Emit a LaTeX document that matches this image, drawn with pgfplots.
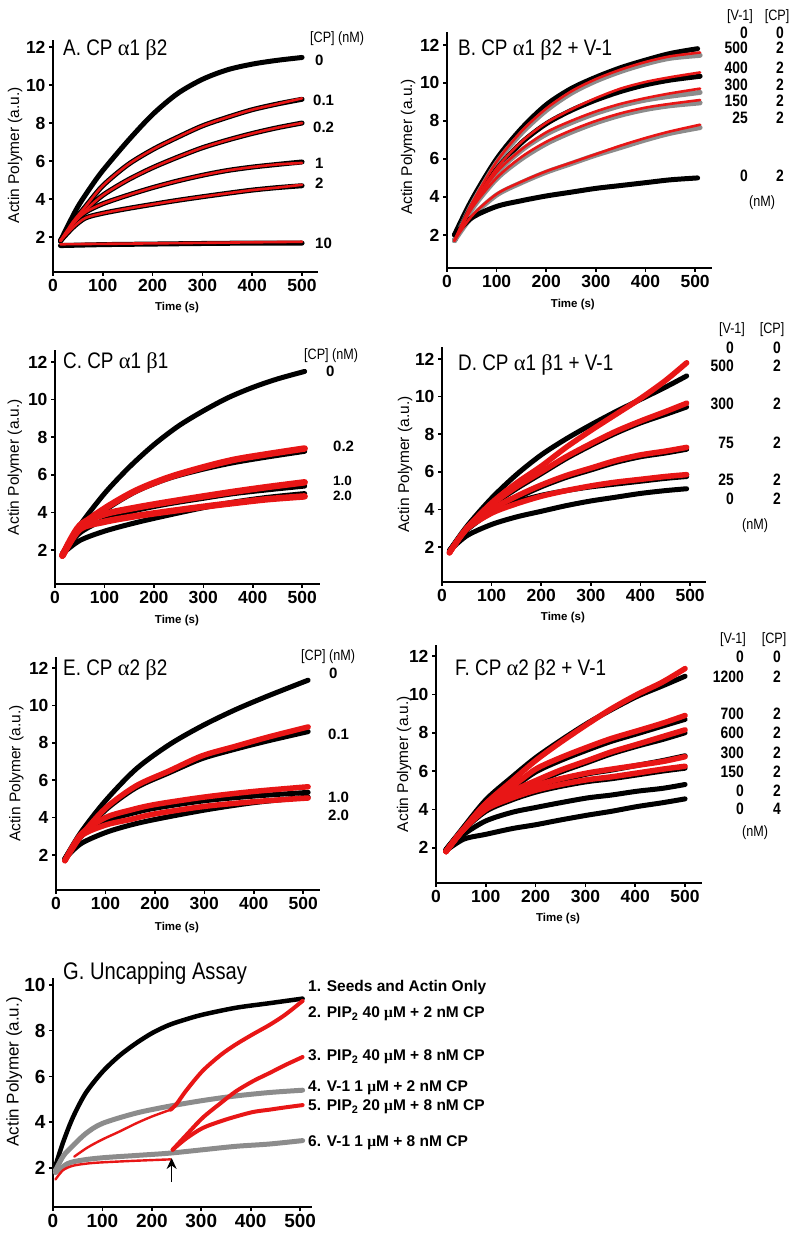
\documentclass[border=0pt]{standalone}
\usepackage{fontspec}
\setmainfont{Liberation Sans}
\newfontfamily\narrow[FakeStretch=0.84]{Liberation Sans}
\newfontfamily\grk{Liberation Serif}
\usepackage{pgfplots}
\pgfplotsset{compat=1.18}
\usetikzlibrary{arrows.meta}
\definecolor{fitred}{RGB}{232,22,22}
\definecolor{datgray}{RGB}{140,140,140}
\newcommand\tk{\bfseries\fontsize{17.5}{17.5}\selectfont}
\newcommand\ttl{\narrow\fontsize{22.5}{22.5}\selectfont}
\newcommand\hdr{\narrow\fontsize{15}{15}\selectfont}
\newcommand\cl{\bfseries\fontsize{15}{15}\selectfont}
\newcommand\tb{\narrow\bfseries\fontsize{16.5}{16.5}\selectfont}
\newcommand\glg{\bfseries\fontsize{15.5}{15.5}\selectfont}
\pgfplotsset{
 panel/.style={
  scale only axis, anchor=south west, xmin=0,
  axis lines=left, axis line style={-, line width=2.6pt},
  tick align=outside, major tick length=4pt,
  tick style={line width=1.6pt, black},
  xtick={0,100,200,300,400,500}, ytick={2,4,6,8,10,12},
  /pgf/number format/assume math mode=true,
  tick label style={font=\tk},
  xlabel style={font=\bfseries\fontsize{11.5}{11.5}\selectfont, anchor=center},
  ylabel style={font=\fontsize{15.5}{15.5}\selectfont, anchor=center},
 },
 dat/.style={black, line width=5pt, smooth, no marks, line cap=round},
 gdat/.style={datgray, line width=5pt, smooth, no marks, line cap=round},
 fit/.style={fitred, line width=2.6pt, smooth, no marks, line cap=round},
 tdat/.style={black, line width=5pt, smooth, no marks, line cap=round},
 tfit/.style={fitred, line width=5.5pt, smooth, no marks, line cap=round},
}
\begin{document}
\begin{tikzpicture}
\path[use as bounding box] (0,0) rectangle (800pt,1240pt);

% ---------------- A ----------------
\begin{axis}[panel, at={(53pt,968pt)}, width=265pt, height=232pt,
  ymin=0.16, ymax=12.37, xmax=532,
  xlabel={Time (s)}, xlabel style={at={(axis description cs:0.468,-0.155)}},
  ylabel={Actin Polymer (a.u.)}, ylabel style={at={(axis description cs:-0.143,0.504)}}]
\addplot[dat] coordinates {(15,1.8)(30,2.6)(50,3.6)(75,4.6)(100,5.5)(150,7.05)(200,8.45)(250,9.55)(300,10.3)(350,10.8)(400,11.1)(450,11.3)(500,11.45)};
\addplot[dat] coordinates {(15,1.8)(40,2.8)(65,3.6)(100,4.7)(150,5.8)(200,6.6)(250,7.25)(300,7.85)(350,8.3)(400,8.7)(450,9.0)(500,9.25)};
\addplot[dat] coordinates {(15,1.8)(40,2.7)(65,3.4)(100,4.2)(150,5.0)(200,5.65)(250,6.2)(300,6.7)(350,7.1)(400,7.45)(450,7.75)(500,8.0)};
\addplot[dat] coordinates {(15,1.8)(40,2.7)(65,3.3)(100,3.75)(150,4.2)(200,4.6)(250,4.95)(300,5.25)(350,5.5)(400,5.68)(450,5.82)(500,5.95)};
\addplot[dat] coordinates {(15,1.8)(40,2.5)(65,3.0)(100,3.25)(150,3.5)(200,3.72)(250,3.93)(300,4.12)(350,4.3)(400,4.47)(450,4.6)(500,4.7)};
\addplot[dat] coordinates {(15,1.55)(100,1.6)(200,1.63)(300,1.66)(400,1.68)(500,1.68)};
\addplot[fit] coordinates {(15,1.8)(40,2.8)(65,3.6)(100,4.7)(150,5.8)(200,6.6)(250,7.25)(300,7.85)(350,8.3)(400,8.7)(450,9.0)(500,9.3)};
\addplot[fit] coordinates {(15,1.8)(40,2.7)(65,3.4)(100,4.2)(150,5.0)(200,5.65)(250,6.2)(300,6.7)(350,7.1)(400,7.45)(450,7.75)(500,8.0)};
\addplot[fit] coordinates {(15,1.8)(40,2.7)(65,3.3)(100,3.75)(150,4.2)(200,4.6)(250,4.95)(300,5.25)(350,5.5)(400,5.68)(450,5.82)(500,5.9)};
\addplot[fit] coordinates {(15,1.8)(40,2.5)(65,3.0)(100,3.25)(150,3.5)(200,3.72)(250,3.93)(300,4.12)(350,4.3)(400,4.47)(450,4.6)(500,4.75)};
\addplot[fit] coordinates {(15,1.62)(250,1.68)(500,1.75)};
\end{axis}

% ---------------- B ----------------
\begin{axis}[panel, at={(447pt,972pt)}, width=265pt, height=236pt,
  ymin=0.26, ymax=12.68, xmax=534,
  xlabel={Time (s)}, xlabel style={at={(axis description cs:0.475,-0.153)}},
  ylabel={Actin Polymer (a.u.)}, ylabel style={at={(axis description cs:-0.147,0.513)}}]
\addplot[dat] coordinates {(15,2.0)(50,3.85)(100,6.0)(150,7.6)(200,8.85)(250,9.7)(300,10.3)(350,10.8)(400,11.2)(450,11.55)(505,11.8)};
\addplot[gdat] coordinates {(15,1.7)(50,3.6)(100,5.8)(150,7.35)(200,8.55)(250,9.45)(300,10.1)(350,10.6)(400,11.0)(450,11.3)(510,11.45)};
\addplot[dat] coordinates {(15,1.7)(50,3.5)(100,5.45)(150,6.85)(200,7.85)(250,8.55)(300,9.1)(350,9.55)(400,9.9)(450,10.15)(510,10.35)};
\addplot[gdat] coordinates {(15,1.7)(50,3.4)(100,5.25)(150,6.45)(200,7.3)(250,7.9)(300,8.4)(350,8.8)(400,9.1)(450,9.3)(510,9.5)};
\addplot[gdat] coordinates {(15,1.7)(50,3.35)(100,4.95)(150,6.0)(200,6.8)(250,7.4)(300,7.9)(350,8.3)(400,8.6)(450,8.8)(510,8.95)};
\addplot[gdat] coordinates {(15,1.7)(50,2.95)(100,4.1)(150,4.75)(200,5.3)(250,5.75)(300,6.2)(350,6.6)(400,7.0)(450,7.35)(510,7.65)};
\addplot[dat] coordinates {(15,2.0)(50,2.9)(100,3.5)(150,3.8)(200,4.05)(250,4.25)(300,4.45)(350,4.6)(400,4.75)(450,4.9)(505,5.0)};
\addplot[fit] coordinates {(15,1.7)(50,3.65)(100,5.85)(150,7.45)(200,8.65)(250,9.55)(300,10.2)(350,10.7)(400,11.1)(450,11.4)(510,11.6)};
\addplot[fit] coordinates {(15,1.7)(50,3.5)(100,5.5)(150,6.9)(200,7.9)(250,8.6)(300,9.2)(350,9.7)(400,10.05)(450,10.3)(510,10.55)};
\addplot[fit] coordinates {(15,1.7)(50,3.45)(100,5.3)(150,6.5)(200,7.4)(250,8.0)(300,8.5)(350,8.9)(400,9.2)(450,9.45)(510,9.7)};
\addplot[fit] coordinates {(15,1.7)(50,3.4)(100,5.0)(150,6.1)(200,6.9)(250,7.5)(300,8.0)(350,8.4)(400,8.7)(450,8.9)(510,9.1)};
\addplot[fit] coordinates {(15,1.7)(50,3.0)(100,4.15)(150,4.8)(200,5.35)(250,5.8)(300,6.25)(350,6.7)(400,7.1)(450,7.45)(510,7.8)};
\end{axis}

% ---------------- C ----------------
\begin{axis}[panel, at={(55pt,656pt)}, width=265pt, height=234pt,
  ymin=0.19, ymax=12.64, xmax=536,
  xlabel={Time (s)}, xlabel style={at={(axis description cs:0.46,-0.158)}},
  ylabel={Actin Polymer (a.u.)}, ylabel style={at={(axis description cs:-0.151,0.5)}}]
\addplot[tdat] coordinates {(15,1.8)(50,3.3)(100,5.0)(150,6.4)(200,7.6)(250,8.6)(300,9.4)(350,10.1)(400,10.65)(450,11.1)(505,11.5)};
\addplot[tdat] coordinates {(15,1.8)(50,3.0)(100,4.1)(163,5.1)(229,5.8)(300,6.3)(362,6.65)(430,6.95)(505,7.25)};
\addplot[tdat] coordinates {(15,1.8)(50,2.9)(100,3.6)(163,4.1)(229,4.45)(300,4.75)(362,5.0)(430,5.2)(505,5.4)};
\addplot[tdat] coordinates {(15,1.8)(50,2.5)(100,3.0)(163,3.45)(229,3.85)(300,4.25)(362,4.55)(430,4.8)(505,5.0)};
\addplot[tfit, line width=6.5pt] coordinates {(15,1.7)(50,3.2)(100,4.2)(163,5.15)(229,5.85)(300,6.4)(362,6.8)(430,7.1)(505,7.4)};
\addplot[tfit, line width=6.5pt] coordinates {(15,1.7)(50,3.3)(100,3.9)(163,4.25)(229,4.55)(300,4.85)(362,5.1)(430,5.35)(505,5.6)};
\addplot[tfit, line width=6.5pt] coordinates {(15,1.7)(50,3.1)(100,3.5)(163,3.8)(229,4.05)(300,4.3)(362,4.5)(430,4.7)(505,4.85)};
\end{axis}

% ---------------- D ----------------
\begin{axis}[panel, at={(442pt,658pt)}, width=264pt, height=235pt,
  ymin=0.14, ymax=12.64, xmax=532,
  xlabel={Time (s)}, xlabel style={at={(axis description cs:0.458,-0.153)}},
  ylabel={Actin Polymer (a.u.)}, ylabel style={at={(axis description cs:-0.14,0.5)}}]
\addplot[tdat] coordinates {(15,1.8)(50,3.1)(100,4.6)(150,5.85)(200,6.9)(250,7.75)(300,8.5)(350,9.2)(400,9.85)(450,10.5)(493,11.1)};
\addplot[tdat] coordinates {(15,1.8)(50,3.0)(100,4.2)(150,5.1)(200,5.9)(250,6.7)(300,7.4)(350,8.05)(400,8.6)(450,9.05)(493,9.45)};
\addplot[tdat] coordinates {(15,1.8)(50,2.95)(100,3.9)(150,4.6)(200,5.2)(250,5.7)(300,6.1)(350,6.5)(400,6.8)(450,7.0)(493,7.2)};
\addplot[tdat] coordinates {(15,1.8)(50,2.9)(100,3.85)(150,4.4)(200,4.75)(250,5.0)(300,5.2)(350,5.35)(400,5.5)(450,5.65)(493,5.75)};
\addplot[tdat] coordinates {(15,1.8)(50,2.6)(100,3.2)(150,3.6)(200,3.9)(250,4.2)(300,4.45)(350,4.65)(400,4.85)(450,5.0)(493,5.1)};
\addplot[tfit] coordinates {(15,1.7)(50,3.0)(100,4.35)(150,5.4)(200,6.3)(250,7.3)(300,8.2)(350,9.05)(400,9.9)(450,10.85)(493,11.8)};
\addplot[tfit] coordinates {(15,1.7)(50,3.0)(100,4.25)(150,5.2)(200,6.0)(250,6.8)(300,7.5)(350,8.15)(400,8.7)(450,9.2)(493,9.65)};
\addplot[tfit] coordinates {(15,1.7)(50,3.0)(100,4.0)(150,4.7)(200,5.3)(250,5.8)(300,6.2)(350,6.6)(400,6.9)(450,7.1)(493,7.3)};
\addplot[tfit] coordinates {(15,1.7)(50,2.95)(100,3.8)(150,4.3)(200,4.7)(250,5.0)(300,5.25)(350,5.45)(400,5.6)(450,5.75)(493,5.85)};
\end{axis}

% ---------------- E ----------------
\begin{axis}[panel, at={(56pt,350pt)}, width=264pt, height=233pt,
  ymin=0.13, ymax=12.59, xmax=534,
  xlabel={Time (s)}, xlabel style={at={(axis description cs:0.458,-0.159)}},
  ylabel={Actin Polymer (a.u.)}, ylabel style={at={(axis description cs:-0.15,0.5)}}]
\addplot[tdat] coordinates {(18,1.8)(50,3.2)(100,4.9)(162,6.6)(229,7.9)(295,8.9)(361,9.75)(428,10.5)(510,11.35)};
\addplot[tdat] coordinates {(18,1.8)(50,2.95)(100,4.4)(162,5.6)(229,6.4)(295,7.15)(361,7.65)(428,8.1)(510,8.6)};
\addplot[tdat] coordinates {(18,1.8)(50,3.0)(100,3.8)(150,4.2)(200,4.5)(300,4.9)(400,5.15)(510,5.35)};
\addplot[tdat] coordinates {(18,1.8)(50,2.6)(100,3.2)(150,3.6)(200,3.9)(300,4.4)(400,4.8)(510,5.1)};
\addplot[tfit] coordinates {(18,1.7)(50,3.0)(100,4.5)(162,5.7)(229,6.5)(295,7.3)(361,7.8)(428,8.3)(510,8.85)};
\addplot[tfit] coordinates {(18,1.7)(50,3.1)(100,4.0)(150,4.4)(200,4.7)(300,5.1)(400,5.4)(510,5.65)};
\addplot[tfit] coordinates {(18,1.7)(50,3.0)(100,3.6)(150,3.9)(200,4.2)(300,4.6)(400,4.85)(510,5.05)};
\end{axis}

% ---------------- F ----------------
\begin{axis}[panel, at={(436pt,357pt)}, width=266pt, height=238pt,
  ymin=0.16, ymax=12.58, xmax=534,
  xlabel={Time (s)}, xlabel style={at={(axis description cs:0.459,-0.151)}},
  ylabel={Actin Polymer (a.u.)}, ylabel style={at={(axis description cs:-0.12,0.5)}}]
\addplot[tdat] coordinates {(20,1.9)(50,2.9)(100,4.5)(153,5.7)(200,6.7)(250,7.6)(304,8.5)(352,9.2)(404,9.9)(455,10.45)(500,10.95)};
\addplot[tdat] coordinates {(20,1.9)(50,2.8)(100,4.2)(153,5.1)(200,5.95)(250,6.55)(304,7.1)(352,7.55)(404,7.95)(455,8.35)(500,8.7)};
\addplot[tdat] coordinates {(20,1.9)(50,2.8)(100,4.1)(153,4.85)(200,5.4)(250,5.95)(304,6.45)(352,6.9)(404,7.3)(455,7.65)(500,8.0)};
\addplot[tdat] coordinates {(20,1.9)(50,2.8)(100,4.0)(153,4.65)(200,5.15)(250,5.5)(304,5.85)(352,6.05)(404,6.3)(455,6.55)(500,6.8)};
\addplot[tdat] coordinates {(20,1.9)(50,2.8)(100,3.9)(153,4.5)(200,4.9)(250,5.2)(304,5.45)(352,5.6)(404,5.8)(455,6.0)(500,6.15)};
\addplot[tdat] coordinates {(20,1.85)(56,2.7)(100,3.4)(153,3.85)(200,4.1)(250,4.35)(304,4.6)(352,4.75)(404,4.95)(455,5.1)(500,5.3)};
\addplot[tdat] coordinates {(20,1.85)(56,2.45)(100,2.7)(153,3.0)(200,3.2)(250,3.45)(304,3.7)(352,3.9)(404,4.15)(455,4.35)(500,4.55)};
\addplot[tfit] coordinates {(20,1.8)(50,2.8)(100,4.3)(153,5.5)(200,6.55)(250,7.5)(304,8.45)(352,9.25)(404,10.0)(455,10.65)(500,11.35)};
\addplot[tfit] coordinates {(20,1.8)(50,2.8)(100,4.3)(153,5.2)(200,6.1)(250,6.7)(304,7.25)(352,7.7)(404,8.1)(455,8.5)(500,8.9)};
\addplot[tfit] coordinates {(20,1.8)(50,2.8)(100,4.2)(153,4.95)(200,5.5)(250,6.05)(304,6.55)(352,7.0)(404,7.4)(455,7.8)(500,8.15)};
\addplot[tfit] coordinates {(20,1.8)(50,2.8)(100,4.1)(153,4.75)(200,5.25)(250,5.6)(304,5.9)(352,6.1)(404,6.3)(455,6.5)(500,6.75)};
\addplot[tfit] coordinates {(20,1.8)(50,2.8)(100,4.0)(153,4.6)(200,5.0)(250,5.3)(304,5.55)(352,5.7)(404,5.9)(455,6.1)(500,6.25)};
\end{axis}

% ---------------- G ----------------
\begin{axis}[panel, at={(53pt,33pt)}, width=259pt, height=229pt,
  ymin=0.3, ymax=10.3, xmax=524, ytick={2,4,6,8,10},
  tick label style={font=\bfseries\fontsize{19}{19}\selectfont},
  ylabel={Actin Polymer (a.u.)}, ylabel style={font=\fontsize{17}{17}\selectfont, at={(axis description cs:-0.15,0.59)}}]
\addplot[black, line width=4.5pt, smooth, no marks, line cap=round] coordinates {(5,2.1)(20,3.1)(40,4.2)(66,5.27)(100,6.2)(134,6.9)(168,7.45)(201,7.9)(235,8.25)(270,8.5)(303,8.7)(370,9.0)(438,9.2)(505,9.4)};
\addplot[fitred, line width=2.4pt, smooth, no marks, line cap=round] coordinates {(43,2.5)(70,2.9)(100,3.25)(135,3.6)(168,3.95)(200,4.25)(238,4.55)};
\addplot[datgray, line width=5pt, smooth, no marks, line cap=round] coordinates {(5,1.9)(20,2.5)(32,2.8)(66,3.5)(100,3.95)(168,4.4)(235,4.7)(303,4.95)(370,5.15)(438,5.3)(505,5.4)};
\addplot[datgray, line width=5pt, smooth, no marks, line cap=round] coordinates {(5,1.8)(30,2.2)(60,2.35)(100,2.45)(168,2.55)(235,2.65)(303,2.8)(370,2.95)(438,3.05)(505,3.2)};
\addplot[fitred, line width=2.4pt, smooth, no marks, line cap=round] coordinates {(5,1.5)(20,1.9)(40,2.1)(70,2.2)(100,2.25)(168,2.32)(238,2.38)};
\addplot[fitred, line width=4pt, smooth, no marks, line cap=round] coordinates {(238,4.55)(250,4.8)(270,5.4)(303,6.25)(340,6.95)(370,7.4)(405,7.85)(438,8.25)(470,8.7)(505,9.3)};
\addplot[fitred, line width=4pt, smooth, no marks, line cap=round] coordinates {(242,2.8)(270,3.45)(303,4.2)(340,4.85)(370,5.35)(405,5.8)(438,6.15)(470,6.5)(505,6.85)};
\addplot[fitred, line width=4pt, smooth, no marks, line cap=round] coordinates {(242,2.8)(270,3.3)(303,3.75)(340,4.05)(370,4.25)(405,4.45)(438,4.55)(470,4.65)(505,4.75)};
\draw[-{Stealth[length=11pt,width=10pt]}, line width=1.6pt] (axis cs:240,1.39) -- (axis cs:240,2.44);
\end{axis}

% ---------------- text ----------------
\begin{scope}[x=1pt,y=-1pt,yshift=1240pt]
\node[anchor=west,font=\ttl,inner sep=0] at (63,50) {A. CP {\grk α}1 {\grk β}2};
\node[anchor=west,font=\ttl,inner sep=0] at (458,50) {B. CP {\grk α}1 {\grk β}2 + V-1};
\node[anchor=west,font=\ttl,inner sep=0] at (63,363) {C. CP {\grk α}1 {\grk β}1};
\node[anchor=west,font=\ttl,inner sep=0] at (458,365) {D. CP {\grk α}1 {\grk β}1 + V-1};
\node[anchor=west,font=\ttl,inner sep=0] at (63,670) {E. CP {\grk α}2 {\grk β}2};
\node[anchor=west,font=\ttl,inner sep=0] at (455,670) {F. CP {\grk α}2 {\grk β}2 + V-1};
\node[anchor=west,font=\narrow\fontsize{24}{24}\selectfont,inner sep=0] at (63,973) {G. Uncapping Assay};
% A labels
\node[anchor=west,font=\hdr,inner sep=0] at (310,39) {[CP] (nM)};
\node[anchor=west,font=\cl,inner sep=0] at (315,60) {0};
\node[anchor=west,font=\cl,inner sep=0] at (313,100) {0.1};
\node[anchor=west,font=\cl,inner sep=0] at (313,127) {0.2};
\node[anchor=west,font=\cl,inner sep=0] at (315,163) {1};
\node[anchor=west,font=\cl,inner sep=0] at (315,183) {2};
\node[anchor=west,font=\cl,inner sep=0] at (315,243) {10};
% B table
\node[font=\hdr,inner sep=0] at (740,17) {[V-1]};
\node[font=\hdr,inner sep=0] at (777,17) {[CP]};
\foreach \a/\b/\y in {0/0/33,500/2/48,400/2/68,300/2/85,150/2/101,25/2/118,0/2/176}{
  \node[anchor=east,font=\tb,inner sep=0] at (748,\y) {\a};
  \node[font=\tb,inner sep=0] at (780,\y) {\b};}
\node[font=\hdr,inner sep=0] at (762,203) {(nM)};
% C labels
\node[anchor=west,font=\hdr,inner sep=0] at (304,356) {[CP] (nM)};
\node[anchor=west,font=\cl,inner sep=0] at (326,371) {0};
\node[anchor=west,font=\cl,inner sep=0] at (333,446) {0.2};
\node[anchor=west,font=\bfseries\fontsize{13.5}{13.5}\selectfont,inner sep=0] at (333,481) {1.0};
\node[anchor=west,font=\bfseries\fontsize{13.5}{13.5}\selectfont,inner sep=0] at (333,496) {2.0};
% D table
\node[font=\hdr,inner sep=0] at (732,330) {[V-1]};
\node[font=\hdr,inner sep=0] at (772,330) {[CP]};
\foreach \a/\b/\y in {0/0/348,500/2/366,300/2/404,75/2/443,25/2/480,0/2/499}{
  \node[anchor=east,font=\tb,inner sep=0] at (734,\y) {\a};
  \node[font=\tb,inner sep=0] at (777,\y) {\b};}
\node[font=\hdr,inner sep=0] at (755,526) {(nM)};
% E labels
\node[anchor=west,font=\hdr,inner sep=0] at (301,657) {[CP] (nM)};
\node[anchor=west,font=\cl,inner sep=0] at (329,673) {0};
\node[anchor=west,font=\cl,inner sep=0] at (328,734) {0.1};
\node[anchor=west,font=\cl,inner sep=0] at (328,797) {1.0};
\node[anchor=west,font=\cl,inner sep=0] at (328,815) {2.0};
% F table
\node[font=\hdr,inner sep=0] at (733,640) {[V-1]};
\node[font=\hdr,inner sep=0] at (774,640) {[CP]};
\foreach \a/\b/\y in {0/0/657,1200/2/677,700/2/714,600/2/733,300/2/753,150/2/772,0/2/791,0/4/809}{
  \node[anchor=east,font=\tb,inner sep=0] at (744,\y) {\a};
  \node[font=\tb,inner sep=0] at (777,\y) {\b};}
\node[font=\hdr,inner sep=0] at (755,833) {(nM)};
% G legend
\node[anchor=west,font=\glg,inner sep=0] at (308,987) {1. Seeds and Actin Only};
\node[anchor=west,font=\glg,inner sep=0] at (308,1014) {2. PIP\textsubscript{2} 40 {\grk μ}M + 2 nM CP};
\node[anchor=west,font=\glg,inner sep=0] at (308,1057) {3. PIP\textsubscript{2} 40 {\grk μ}M + 8 nM CP};
\node[anchor=west,font=\glg,inner sep=0] at (308,1088) {4. V-1 1 {\grk μ}M + 2 nM CP};
\node[anchor=west,font=\glg,inner sep=0] at (308,1107) {5. PIP\textsubscript{2} 20 {\grk μ}M + 8 nM CP};
\node[anchor=west,font=\glg,inner sep=0] at (308,1143) {6. V-1 1 {\grk μ}M + 8 nM CP};
\end{scope}
\end{tikzpicture}
\end{document}
